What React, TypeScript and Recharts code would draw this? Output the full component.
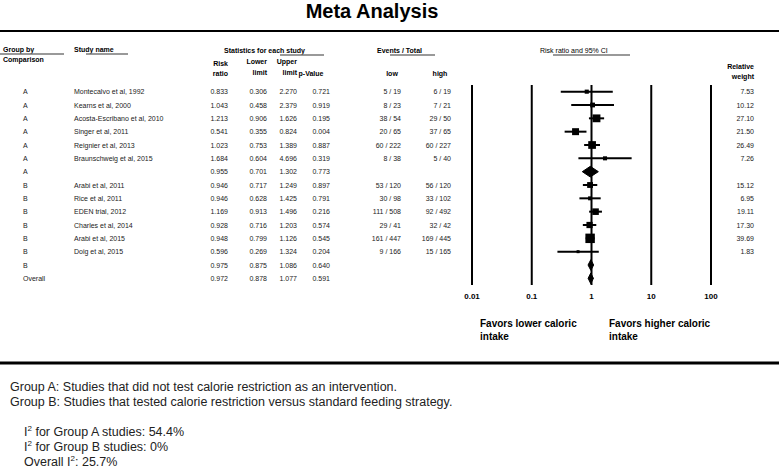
import React from "react";
import {ComposedChart, Scatter, XAxis, YAxis, ReferenceLine, ErrorBar} from "recharts";

const groups = ["A", "A", "A", "A", "A", "A", "A", "B", "B", "B", "B", "B", "B", "B", "Overall"];
const studyNames = [
    "Montecalvo et al, 1992", "Kearns et al, 2000", "Acosta-Escribano et al, 2010", "Singer et al, 2011",
    "Reignier et al, 2013", "Braunschweig et al, 2015", "", "Arabi et al, 2011", "Rice et al, 2011",
    "EDEN trial, 2012", "Charles et al, 2014", "Arabi et al, 2015", "Doig et al, 2015", "", "",
];
const riskRatios = [0.833, 1.043, 1.213, 0.541, 1.023, 1.684, 0.955, 0.946, 0.946, 1.169, 0.928, 0.948, 0.596, 0.975, 0.972];
const lowerLimits = [0.306, 0.458, 0.906, 0.355, 0.753, 0.604, 0.701, 0.717, 0.628, 0.913, 0.716, 0.799, 0.269, 0.875, 0.878];
const upperLimits = [2.270, 2.379, 1.626, 0.824, 1.389, 4.696, 1.302, 1.249, 1.425, 1.496, 1.203, 1.126, 1.324, 1.086, 1.077];
const pValues = ["0.721", "0.919", "0.195", "0.004", "0.887", "0.319", "0.773", "0.897", "0.791", "0.216", "0.574", "0.545", "0.204", "0.640", "0.591"];
const eventsLow = ["5 / 19", "8 / 23", "38 / 54", "20 / 65", "60 / 222", "8 / 38", "", "53 / 120", "30 / 98", "111 / 508", "29 / 41", "161 / 447", "9 / 166", "", ""];
const eventsHigh = ["6 / 19", "7 / 21", "29 / 50", "37 / 65", "60 / 227", "5 / 40", "", "56 / 120", "33 / 102", "92 / 492", "32 / 42", "169 / 445", "15 / 165", "", ""];
const relativeWeights = [7.53, 10.12, 27.10, 21.50, 26.49, 7.26, null, 15.12, 6.95, 19.11, 17.30, 39.69, 1.83, null, null];
const summaryRows = [6, 13, 14];
const axisTicks = [0.01, 0.1, 1, 10, 100];

const FONT = "'Liberation Sans', Arial, Helvetica, sans-serif";
const TXT = "#222";

// one entry per table row, x is only a dummy so the row gets its y from the axis
const tableRows = groups.map((g, i) => ({x: 1, y: i, i}));

const studies = riskRatios
    .map((rr, i) => ({x: rr, y: i, w: relativeWeights[i], ci: [rr - lowerLimits[i], upperLimits[i] - rr]}))
    .filter((d, i) => !summaryRows.includes(i));

const diamondPoints = (i: number) => [
    {x: lowerLimits[i], y: i},
    {x: riskRatios[i], y: i - 0.4},
    {x: upperLimits[i], y: i},
    {x: riskRatios[i], y: i + 0.4},
    {x: lowerLimits[i], y: i},
];

const TableRow = (props: any) => {
    const {cy, payload} = props;
    const i = payload.i;
    const t = (x: number, s: string, anchor: string = "end") => (
        <text x={x} y={cy} fontSize={7} fill={TXT} textAnchor={anchor} dominantBaseline="central">{s}</text>
    );
    return (
        <g>
            {t(23, groups[i], "start")}
            {t(74, studyNames[i], "start")}
            {t(228, riskRatios[i].toFixed(3))}
            {t(267, lowerLimits[i].toFixed(3))}
            {t(297, upperLimits[i].toFixed(3))}
            {t(330, pValues[i])}
            {t(401, eventsLow[i])}
            {t(451, eventsHigh[i])}
            {relativeWeights[i] != null && t(754, relativeWeights[i]!.toFixed(2))}
        </g>
    );
};

const Square = (props: any) => {
    const {cx, cy, payload} = props;
    const s = Math.max(3, 1.5 * Math.sqrt(payload.w));
    return <rect x={cx - s / 2} y={cy - s / 2} width={s} height={s} fill="#000" />;
};

const Header = () => {
    const b = (x: number, y: number, s: string, anchor = "start", weight = "bold") => (
        <text x={x} y={y} fontSize={7} fontWeight={weight} fill="#000" textAnchor={anchor} dominantBaseline="central">{s}</text>
    );
    const ul = (x1: number, x2: number, y: number) => <line x1={x1} x2={x2} y1={y} y2={y} stroke="#777" strokeWidth={1.5} />;
    return (
        <svg width={779} height={476} style={{position: "absolute", left: 0, top: 0, pointerEvents: "none", fontFamily: FONT}}>
            <text x={372} y={18} fontSize={20} fontWeight="bold" textAnchor="middle" fill="#000">Meta Analysis</text>
            <line x1={0} x2={779} y1={31} y2={31} stroke="#000" strokeWidth={2} />
            {b(3, 49, "Group by")}
            {b(3, 59, "Comparison")}
            {ul(0, 64, 54)}
            {b(74, 49, "Study name")}
            {ul(86, 128, 54)}
            {b(224, 50, "Statistics for each study")}
            {ul(280, 324, 55)}
            {b(377, 50, "Events / Total")}
            {ul(390, 435, 55)}
            {b(540, 50, "Risk ratio and 95% CI", "start", "normal")}
            {ul(553, 630, 55)}
            {b(228, 63, "Risk", "end")}
            {b(228, 73, "ratio", "end")}
            {b(267, 61, "Lower", "end")}
            {b(267, 72, "limit", "end")}
            {b(297, 61, "Upper", "end")}
            {b(297, 72, "limit", "end")}
            {b(311, 73, "p-Value", "middle")}
            {b(392, 73, "low", "middle")}
            {b(440, 73, "high", "middle")}
            {b(754, 66, "Relative", "end")}
            {b(754, 76, "weight", "end")}
            <g fontSize={10} fontWeight="bold" fill="#000">
                <text x={480} y={323} dominantBaseline="central">Favors lower caloric</text>
                <text x={480} y={336} dominantBaseline="central">intake</text>
                <text x={609} y={323} dominantBaseline="central">Favors higher caloric</text>
                <text x={609} y={336} dominantBaseline="central">intake</text>
            </g>
            <line x1={0} x2={779} y1={363} y2={363} stroke="#000" strokeWidth={3} />
            <g fontSize={12.5} fill={TXT}>
                <text x={10} y={387} dominantBaseline="central">Group A: Studies that did not test calorie restriction as an intervention.</text>
                <text x={10} y={402} dominantBaseline="central">Group B: Studies that tested calorie restriction versus standard feeding strategy.</text>
                <text x={24} y={432} dominantBaseline="central">I<tspan fontSize={8} dy={-4}>2</tspan><tspan dy={4}> for Group A studies: 54.4%</tspan></text>
                <text x={24} y={447} dominantBaseline="central">I<tspan fontSize={8} dy={-4}>2</tspan><tspan dy={4}> for Group B studies: 0%</tspan></text>
                <text x={24} y={462} dominantBaseline="central">Overall I<tspan fontSize={8} dy={-4}>2</tspan><tspan dy={4}>: 25.7%</tspan></text>
            </g>
        </svg>
    );
};

export default function App() {
    return (
        <div style={{position: "absolute", left: 0, top: 0, width: 779, height: 476, background: "#fff", fontFamily: FONT}}>
            <ComposedChart width={779} height={476} margin={{top: 85, right: 68, bottom: 161, left: 472}}>
                <XAxis type="number" dataKey="x" scale="log" domain={[0.01, 100]} ticks={axisTicks}
                       axisLine={false} tickLine={false} height={30}
                       tick={{fontSize: 8, fontWeight: "bold", fill: "#000"}} tickFormatter={(v: number) => String(v)} />
                <YAxis type="number" dataKey="y" domain={[-0.5, 14.5]} reversed hide />
                {axisTicks.map(t => (
                    <ReferenceLine key={t} x={t} stroke="#000" strokeWidth={2} />
                ))}
                <Scatter data={tableRows} shape={TableRow} isAnimationActive={false} />
                <Scatter data={studies} shape={Square} fill="#000" isAnimationActive={false}>
                    <ErrorBar dataKey="ci" direction="x" width={0} stroke="#000" strokeWidth={2} />
                </Scatter>
                {summaryRows.map(i => (
                    <Scatter key={i} data={diamondPoints(i)} line={{fill: "#000", stroke: "#000"}} lineType="joint"
                             shape={() => <g />} fill="#000" isAnimationActive={false} />
                ))}
            </ComposedChart>
            <Header />
        </div>
    );
}
